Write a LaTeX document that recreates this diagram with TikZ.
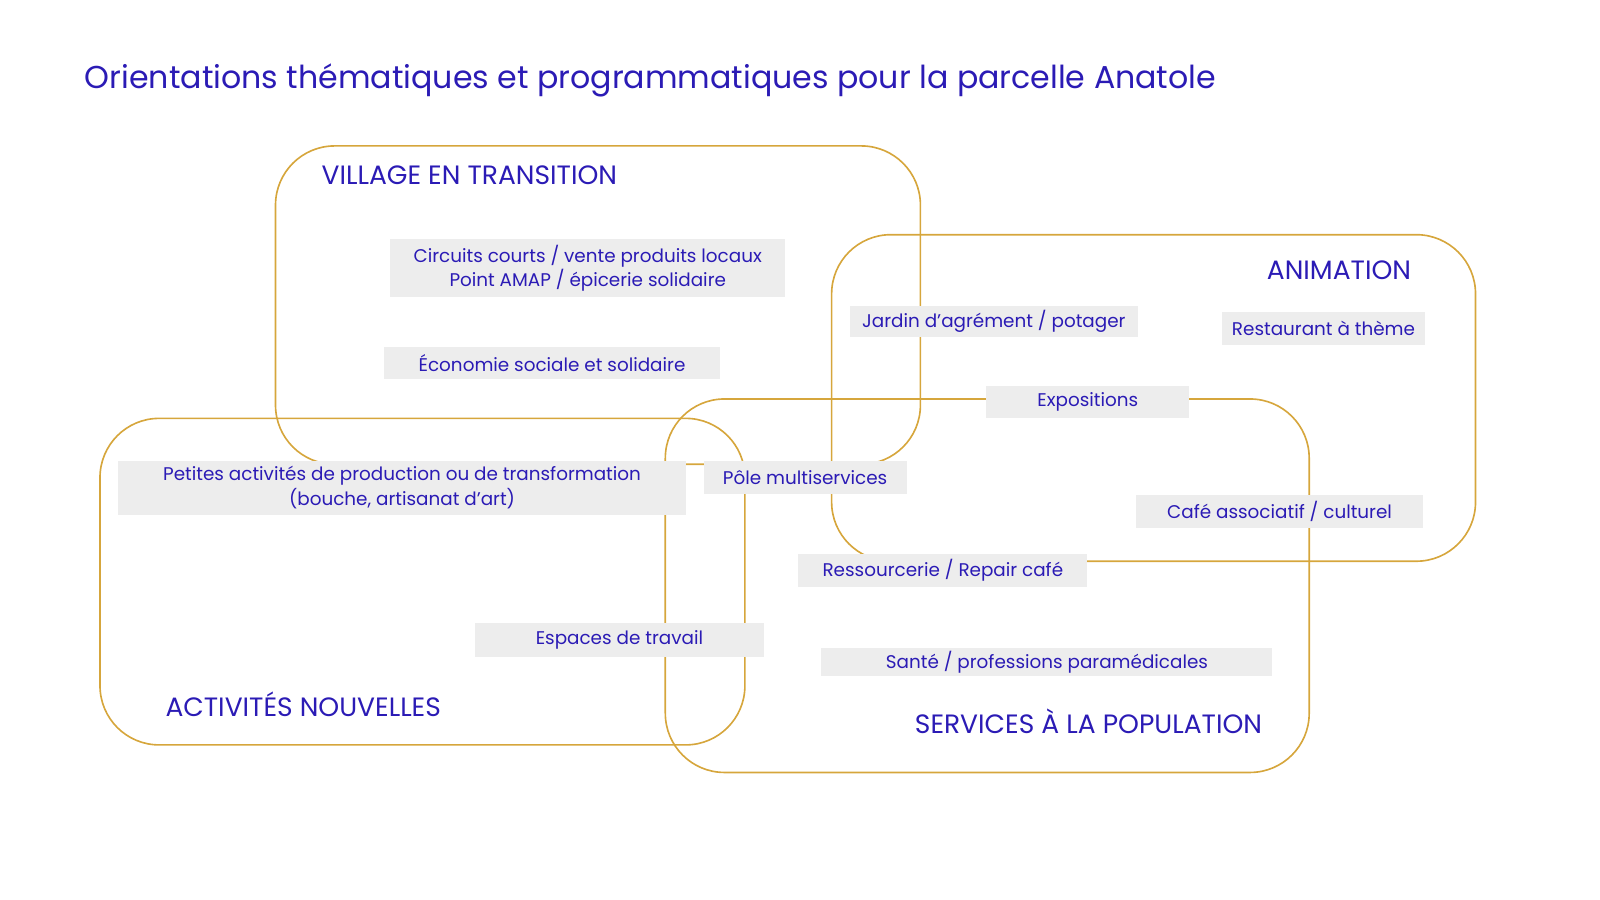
\documentclass[tikz,border=0pt]{standalone}
\usepackage{fontspec}
\setmainfont{Poppins}
\definecolor{ink}{HTML}{2B1BB5}
\definecolor{gold}{HTML}{D6A63C}
\definecolor{boxg}{HTML}{EDEDED}
\begin{document}
\begin{tikzpicture}[x=1pt,y=-1pt,
  zone/.style={draw=gold,line width=1.6pt,rounded corners=58pt},
  lab/.style={fill=boxg,text=ink,font=\fontsize{18}{24}\selectfont,align=center,inner sep=0pt},
  head/.style={text=ink,font=\fontsize{26}{30}\selectfont,inner sep=0pt}]
\useasboundingbox (0,0) rectangle (1568,882);
\draw[zone] (270,143) rectangle (902,455);
\draw[zone] (815,230) rectangle (1446,550);
\draw[zone] (98,410) rectangle (730,730);
\draw[zone] (652,391) rectangle (1283,757);
\node[text=ink,font=\fontsize{31}{36}\selectfont,anchor=west,inner sep=0pt] (title) at (83,79) {Orientations thématiques et programmatiques pour la parcelle Anatole};
\node[head,anchor=west] (h1) at (315,172) {VILLAGE EN TRANSITION};
\node[head,anchor=east] (h2) at (1383,265) {ANIMATION};
\node[head,anchor=west] (h3) at (162,690) {ACTIVITÉS NOUVELLES};
\node[head,anchor=east] (h4) at (1237,707) {SERVICES À LA POPULATION};
\node[lab,minimum width=387pt,minimum height=57pt] (a) at (576,263) {Circuits courts / vente produits locaux\\Point AMAP / épicerie solidaire};
\node[lab,minimum width=329pt,minimum height=31pt] (b) at (541,356) {Économie sociale et solidaire};
\node[lab,minimum width=282pt,minimum height=31pt] (c) at (974,315) {Jardin d'agrément / potager};
\node[lab,minimum width=198pt,minimum height=32pt] (d) at (1297,322) {Restaurant à thème};
\node[lab,minimum width=199pt,minimum height=32pt] (e) at (1066,394) {Expositions};
\node[lab,minimum width=556pt,minimum height=53pt] (f) at (394,478) {Petites activités de production ou de transformation\\(bouche, artisanat d'art)};
\node[lab,minimum width=199pt,minimum height=32pt] (g) at (789,468) {Pôle multiservices};
\node[lab,minimum width=282pt,minimum height=32pt] (h) at (1254,501) {Café associatif / culturel};
\node[lab,minimum width=283pt,minimum height=32pt] (i) at (924,559) {Ressourcerie / Repair café};
\node[lab,minimum width=283pt,minimum height=33pt] (j) at (607,627) {Espaces de travail};
\node[lab,minimum width=442pt,minimum height=27pt] (k) at (1026,649) {Santé / professions paramédicales};
\end{tikzpicture}
\end{document}
